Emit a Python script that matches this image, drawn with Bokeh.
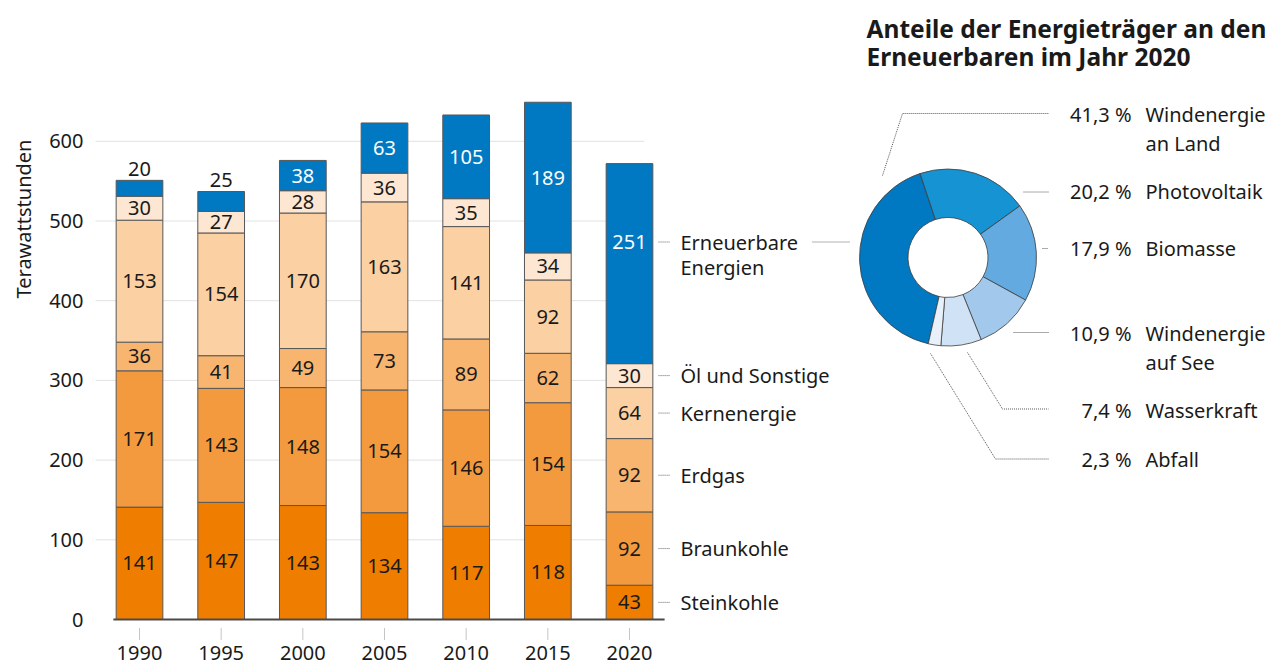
import math
from bokeh.plotting import figure
from bokeh.layouts import row
from bokeh.models import Range1d, FixedTicker
from bokeh.core.properties import value
from bokeh.embed import file_html
from bokeh.resources import INLINE

# ---------------- data ----------------
years = [1990, 1995, 2000, 2005, 2010, 2015, 2020]
categories = ["Steinkohle", "Braunkohle", "Erdgas", "Kernenergie",
              "Öl und Sonstige", "Erneuerbare Energien"]
steinkohle = [141, 147, 143, 134, 117, 118, 43]
braunkohle = [171, 143, 148, 154, 146, 154, 92]
erdgas = [36, 41, 49, 73, 89, 62, 92]
kernenergie = [153, 154, 170, 163, 141, 92, 64]
oel_sonstige = [30, 27, 28, 36, 35, 34, 30]
erneuerbare = [20, 25, 38, 63, 105, 189, 251]
y_ticks = [0, 100, 200, 300, 400, 500, 600]
legend_lines = [["Steinkohle"], ["Braunkohle"], ["Erdgas"], ["Kernenergie"],
                ["Öl und Sonstige"], ["Erneuerbare", "Energien"]]

ee_sources = [["Windenergie", "an Land"], ["Photovoltaik"], ["Biomasse"],
              ["Windenergie", "auf See"], ["Wasserkraft"], ["Abfall"]]
ee_shares = [41.3, 20.2, 17.9, 10.9, 7.4, 2.3]
donut_title = ["Anteile der Energieträger an den", "Erneuerbaren im Jahr 2020"]
y_axis_title = "Terawattstunden"

# ---------------- styles ----------------
FONT = value("Noto Sans")
TXT = "#1a1a1a"
bar_colors = ["#EE7D00", "#F39A3E", "#F7B570", "#FBD0A2", "#FDE7D2", "#0079C2"]
donut_colors = ["#0079C2", "#1693D2", "#62AADF", "#A2C8EB", "#D0E2F5", "#E8F1FA"]

# layout geometry (pixels of the page picture)
W, H = 1275, 666
LW = 45                   # width of the side strip holding the axis title
FR_L, FR_R, FR_T, FR_B = 95, 1275, 0, 666
KX = 81.667 / 5.0        # px per year
KY = 0.797               # px per TWh
X_1990, Y_ZERO = 139, 619


def dx(px):
    return years[0] + (px - X_1990) / KX


def dy(py):
    return (Y_ZERO - py) / KY


# ---- side strip with the rotated y-axis title ----
s = figure(width=LW, height=H, output_backend="svg", toolbar_location=None,
           x_range=Range1d(0, LW), y_range=Range1d(H, 0),
           x_axis_location=None, y_axis_location=None,
           min_border=0, outline_line_color=None)
s.grid.visible = False
s.text(x=[23], y=[218.5], text=[y_axis_title], angle=math.pi / 2,
       text_color=TXT, text_font=FONT, text_font_size="20px",
       text_align="center", text_baseline="middle")

# ---- main chart ----
p = figure(width=W - LW, height=H, output_backend="svg", toolbar_location=None,
           x_range=Range1d(dx(FR_L), dx(FR_R)), y_range=Range1d(dy(FR_B), dy(FR_T)),
           x_axis_location=None, min_border_left=FR_L - LW, min_border_right=0,
           min_border_top=0, min_border_bottom=0, outline_line_color=None)
p.grid.visible = False

# y axis with tick labels
ya = p.yaxis[0]
ya.ticker = FixedTicker(ticks=y_ticks)
ya.axis_line_color = None
ya.major_tick_line_color = None
ya.minor_tick_line_color = None
ya.major_label_standoff = 6
ya.major_label_text_font = "Noto Sans"
ya.major_label_text_font_size = "20px"
ya.major_label_text_color = TXT

# grid lines (dotted)
gt = y_ticks[1:]
p.segment(x0=[dx(FR_L)] * len(gt), x1=[years[-1] + 0.9] * len(gt), y0=gt, y1=gt,
          line_color="#c4c4c4", line_width=1, line_dash="1 1")

# stacked bars
series = [steinkohle, braunkohle, erdgas, kernenergie, oel_sonstige, erneuerbare]
bottoms = [0] * len(years)
seg_bounds = []
for vals, col in zip(series, bar_colors):
    tops = [b + v for b, v in zip(bottoms, vals)]
    p.vbar(x=years, bottom=bottoms, top=tops, width=2.86, fill_color=col,
           line_color="#585858", line_width=1)
    seg_bounds.append((list(bottoms), tops))
    bottoms = tops

# value labels
lx, ly, lt, lc = [], [], [], []
for si, vals in enumerate(series):
    b, t = seg_bounds[si]
    for yi, yr in enumerate(years):
        is_top = si == len(series) - 1
        if is_top and vals[yi] < 26:
            yy, col = t[yi] + 14, TXT
        elif is_top and yi == len(years) - 1:
            yy, col = dy(241.5), "white"
        else:
            yy, col = (b[yi] + t[yi]) / 2.0, ("white" if is_top else TXT)
        lx.append(yr); ly.append(yy); lt.append(str(vals[yi])); lc.append(col)
p.text(x=lx, y=ly, text=lt, text_color=lc, text_font=FONT, text_font_size="20px",
       text_align="center", text_baseline="middle")

# x axis line, ticks, year labels
p.segment(x0=[years[0] - 1.6], x1=[years[-1] + 2.15], y0=[0], y1=[0],
          line_color="#4a4a4a", line_width=2)
p.segment(x0=years, x1=years, y0=[dy(628)] * len(years), y1=[dy(639)] * len(years),
          line_color="#8a8a8a", line_width=1, line_dash="1 1")
p.text(x=years, y=[dy(652.5)] * len(years), text=[str(y) for y in years],
       text_color=TXT, text_font=FONT, text_font_size="20px",
       text_align="center", text_baseline="middle")

# legend for last bar
last = len(years) - 1
lead_x0, lead_x1, text_x = years[-1] + 1.78, years[-1] + 2.51, years[-1] + 3.12
gx, gy, gt_ = [], [], []
lead_y = []
for si, lines in enumerate(legend_lines):
    b, t = seg_bounds[si]
    if si == len(legend_lines) - 1:
        yc = dy(241.5)
    else:
        yc = (b[last] + t[last]) / 2.0
    lead_y.append(yc)
    for li, line in enumerate(lines):
        gx.append(text_x); gy.append(yc - li * 25.5 / KY); gt_.append(line)
p.segment(x0=[lead_x0] * len(lead_y), x1=[lead_x1] * len(lead_y), y0=lead_y, y1=lead_y,
          line_color="#666666", line_width=1, line_dash="1 1")
p.text(x=gx, y=gy, text=gt_, text_color=TXT, text_font=FONT, text_font_size="20px",
       text_align="left", text_baseline="middle")
# connector to donut
p.segment(x0=[dx(812)], x1=[dx(849)], y0=[lead_y[-1]], y1=[lead_y[-1]],
          line_color="#666666", line_width=1, line_dash="1 1")

# donut title
p.text(x=[dx(866)] * 2, y=[dy(27.5), dy(56)], text=donut_title, text_color=TXT,
       text_font=FONT, text_font_size="24.5px", text_font_style="bold",
       text_align="left", text_baseline="middle")

# donut
cx, cy = dx(947.5), dy(257)
acc = -18.4 - ee_shares[0] * 3.6   # clockwise degrees from top
sa, ea = [], []
for sh in ee_shares:
    a0 = acc
    a1 = acc + sh * 3.6
    sa.append(math.radians(90 - a0))
    ea.append(math.radians(90 - a1))
    acc = a1
p.annular_wedge(x=[cx] * len(ee_shares), y=[cy] * len(ee_shares),
                inner_radius=40, outer_radius=88.5,
                inner_radius_units="screen", outer_radius_units="screen",
                start_angle=sa, end_angle=ea, direction="clock",
                fill_color=donut_colors, line_color="#3c3c3c", line_width=0.8)

# donut labels (row centres)
row_mid = [114.4, 191.0, 248.4, 333.4, 410.0, 458.7]
pct_x, name_x = dx(1131), dx(1145)
px_, py_, pt_ = [], [], []
nx_, ny_, nt_ = [], [], []
for i, sh in enumerate(ee_shares):
    px_.append(pct_x); py_.append(dy(row_mid[i]))
    pt_.append(("%.1f" % sh).replace(".", ",") + " %")
    for li, line in enumerate(ee_sources[i]):
        nx_.append(name_x); ny_.append(dy(row_mid[i] + li * 29)); nt_.append(line)
p.text(x=px_, y=py_, text=pt_, text_color=TXT, text_font=FONT, text_font_size="20px",
       text_align="right", text_baseline="middle")
p.text(x=nx_, y=ny_, text=nt_, text_color=TXT, text_font=FONT, text_font_size="20px",
       text_align="left", text_baseline="middle")

# donut leader lines
leaders = [
    [(882, 175), (902, 113), (1048, 113)],
    [(1023, 191.5), (1048, 191.5)],
    [(1042, 248), (1048, 248)],
    [(1013, 332), (1048, 332)],
    [(967, 352), (1002, 408.5), (1048, 408.5)],
    [(930, 353), (995, 458.5), (1048, 458.5)],
]
p.multi_line(xs=[[dx(a) for a, _ in L] for L in leaders],
             ys=[[dy(b) for _, b in L] for L in leaders],
             line_color="#555555", line_width=1, line_dash="1 1")

layout = row(s, p, spacing=0)
open("out.html", "w").write(file_html(layout, INLINE))
